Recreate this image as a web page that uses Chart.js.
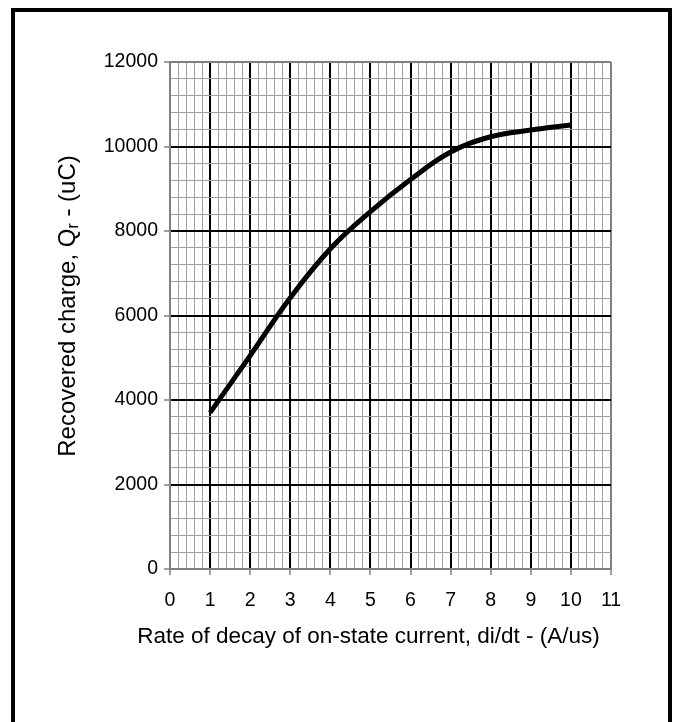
<!DOCTYPE html>
<html lang="en">
<head>
  <meta charset="UTF-8">
  <title>Recovered charge vs di/dt</title>
  <script src="https://cdn.jsdelivr.net/npm/chart.js@4.4.1/dist/chart.umd.min.js"></script>
  <style>
    body { margin: 0; background: #fff; }
    .frame {
      position: absolute; left: 11px; top: 8px;
      width: 661px; height: 800px;
      box-sizing: border-box; border: 4px solid #000;
    }
    #chart { position: absolute; left: 0; top: 0; }
  </style>
</head>
<body>
<div class="frame"></div>
<canvas id="chart" width="676" height="722"></canvas>
<script>
  // values
  const rates = [1, 2, 3, 4, 5, 6, 7, 8, 9, 10];           // di/dt (A/us)
  const charge = [3700, 5050, 6420, 7580, 8460, 9220, 9870, 10230, 10390, 10510]; // Qr (uC)
  const xMax = 11;
  const yMax = 12000;

  const FONT = '"Liberation Sans", Arial, sans-serif';
  const isInt = v => Math.abs(v - Math.round(v)) < 1e-6;
  const isMultiple = (v, m) => Math.abs(v / m - Math.round(v / m)) < 1e-6;

  function gridColor(isMajor, v, max) {
    if (v <= 0 || v >= max) return '#808080';
    return isMajor ? '#000000' : '#a0a0a0';
  }

  // axis titles are drawn by hand so the subscript r works
  const titles = {
    id: 'titles',
    afterDraw(chart) {
      const { ctx, chartArea } = chart;
      ctx.save();
      ctx.fillStyle = '#000';
      ctx.textBaseline = 'middle';

      ctx.font = '22.5px ' + FONT;
      ctx.textAlign = 'center';
      ctx.fillText('Rate of decay of on-state current, di/dt - (A/us)', (chartArea.left + chartArea.right) / 2 - 22, 637);

      const big = '24px ' + FONT, small = '16px ' + FONT;
      const a = 'Recovered charge, Q', b = 'r', c = ' - (uC)';
      ctx.font = big; const wa = ctx.measureText(a).width, wc = ctx.measureText(c).width;
      ctx.font = small; const wb = ctx.measureText(b).width;
      const w = wa + wb + wc;
      ctx.translate(68, 306);
      ctx.rotate(-Math.PI / 2);
      ctx.textAlign = 'left';
      ctx.font = big; ctx.fillText(a, -w / 2, 0);
      ctx.font = small; ctx.fillText(b, -w / 2 + wa, 6);
      ctx.font = big; ctx.fillText(c, -w / 2 + wa + wb, 0);
      ctx.restore();
    }
  };

  new Chart(document.getElementById('chart'), {
    type: 'line',
    data: {
      datasets: [{
        data: rates.map((r, i) => ({ x: r, y: charge[i] })),
        borderColor: '#000',
        borderWidth: 5,
        pointRadius: 0,
        tension: 0.4,
        fill: false
      }]
    },
    plugins: [titles],
    options: {
      responsive: false,
      animation: false,
      devicePixelRatio: 1,
      layout: { padding: { top: 62, right: 65, left: 0, bottom: 0 } },
      plugins: { legend: { display: false }, tooltip: { enabled: false } },
      scales: {
        x: {
          type: 'linear', min: 0, max: xMax,
          afterFit: s => { s.height = 153; },
          ticks: {
            stepSize: 0.2, autoSkip: false, maxRotation: 0, padding: 14,
            color: '#000', font: { family: FONT, size: 19.5 },
            callback: v => isInt(v) ? String(Math.round(v)) : ''
          },
          grid: {
            color: c => gridColor(isInt(c.tick.value), c.tick.value, xMax),
            lineWidth: c => (isInt(c.tick.value) ? 2 : 1),
            tickColor: c => isInt(c.tick.value) ? '#808080' : 'rgba(0,0,0,0)',
            tickLength: 6,
            tickWidth: 1.5
          },
          border: { display: true, color: '#808080', width: 2 }
        },
        y: {
          min: 0, max: yMax,
          afterFit: s => { s.width = 170; },
          ticks: {
            stepSize: 400, autoSkip: false, padding: 6,
            color: '#000', font: { family: FONT, size: 19.5 },
            callback: v => isMultiple(v, 2000) ? String(Math.round(v)) : ''
          },
          grid: {
            color: c => gridColor(isMultiple(c.tick.value, 2000), c.tick.value, yMax),
            lineWidth: c => (isMultiple(c.tick.value, 2000) ? 2 : 1),
            tickColor: c => isMultiple(c.tick.value, 2000) ? '#808080' : 'rgba(0,0,0,0)',
            tickLength: 6,
            tickWidth: 1.5
          },
          border: { display: true, color: '#808080', width: 2 }
        }
      }
    }
  });
</script>
</body>
</html>
